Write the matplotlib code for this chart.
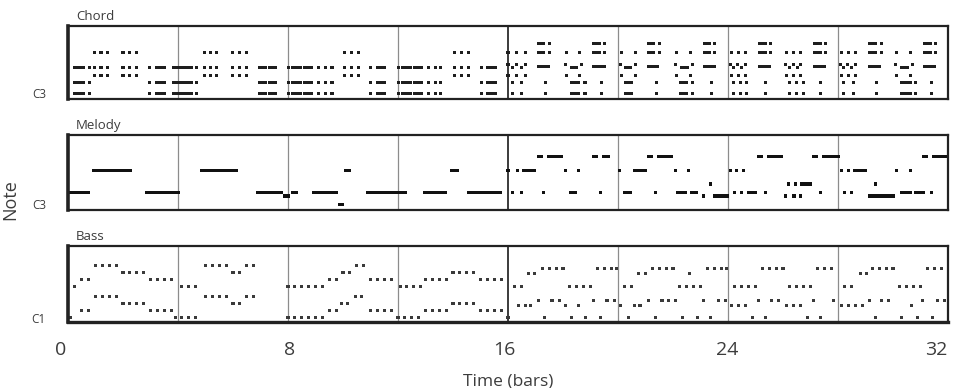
import matplotlib
matplotlib.use("Agg")
import matplotlib.pyplot as plt
import matplotlib.transforms as mtransforms
from matplotlib.patches import Rectangle
from matplotlib.collections import PatchCollection

plt.rcParams['font.family'] = ['Open Sans', 'DejaVu Sans']

# ---------------- data ----------------
# x axis: time in bars (0..32); notes are read in beats (4 beats per bar),
# given relative to the start of each 4-bar segment.
BEATS_PER_BAR = 4
SEG_OFFSETS = [0, 16, 32, 48, 64, 80, 96, 112]   # segment starts, in beats
X_TICKS = [0, 8, 16, 24, 32]
PANELS = ["Chord", "Melody", "Bass"]
REF_PITCH = [48, 48, 24]
REF_LABEL = ["C3", "C3", "C1"]
DIVIDERS = [4, 8, 12, 16, 20, 24, 28]
# each entry: pitch -> list of notes; a number = short note (its centre beat),
# a pair = held note (start beat, end beat)

CHORD = [
    {75: [3.85, 4.8, 5.75, 8.0, 8.95, 9.9],
     65: [(0.75, 2.5), 3.1, 3.85, 4.8, 5.75, 8.0, 8.95, 9.9, 11.85, (12.6, 14.3), (15.1, 18.2)],
     60: [3.85, 4.8, 5.75, 8.0, 8.95, 9.9],
     55: [(0.75, 2.5), 3.1, 11.85, (12.6, 14.3), (15.1, 18.2)],
     48: [(0.75, 2.5), 3.1, 11.85, (12.6, 14.3), (15.1, 18.2)]},
    {75: [3.8, 4.7, 5.6, 7.9, 8.9, 9.9],
     65: [2.7, 3.8, 4.7, 5.6, 7.9, 8.9, 9.9, (11.7, 12.9), (13.1, 14.4)],
     60: [3.8, 4.7, 5.6, 7.9, 8.9, 9.9],
     55: [2.7, (11.7, 12.9), (13.1, 14.4)],
     48: [2.7, (11.7, 12.9), (13.1, 14.4)]},
    {75: [8.25, 9.25, 10.25],
     65: [0.1, (0.5, 2.0), (2.2, 3.7), 4.4, 5.4, 6.4, 8.25, 9.25, 10.25, 12.0, (12.8, 14.2)],
     60: [8.25, 9.25, 10.25],
     55: [0.1, (0.5, 2.0), (2.2, 3.7), 4.4, 5.4, 6.4, 12.0, (12.8, 14.2)],
     48: [0.1, (0.5, 2.0), (2.2, 3.7), 4.4, 5.4, 6.4, 12.0, (12.8, 14.2)]},
    {75: [8.25, 9.25, 10.25],
     65: [0.1, (0.5, 2.0), (2.2, 3.7), 4.4, 5.4, 6.2, 8.25, 9.25, 10.25, 12.2, (12.8, 14.4)],
     60: [8.25, 9.25, 10.25],
     55: [0.1, (0.5, 2.0), (2.2, 3.7), 4.4, 5.4, 6.2, 12.2, (12.8, 14.4)],
     48: [0.1, (0.5, 2.0), (2.2, 3.7), 4.4, 5.4, 6.2, 12.2, (12.8, 14.4)]},
    {81: [(4.2, 5.4), 6.1, (12.2, 13.5), 14.1],
     75: [0.0, 1.2, 2.5, (4.2, 5.4), 6.1, 8.5, 10.4, (12.2, 13.5), 14.1],
     67: [0.0, 1.2, 2.5, 8.4, 10.7],
     65: [0.6, 1.9, (9.0, 10.2)],
     66: [(4.2, 6.1), (12.2, 14.2)],
     60: [0.0, 1.2, 2.5, 8.5, 10.4],
     55: [0.7, 2.0, 5.4, (9.0, 10.5), 11.2, 13.6],
     48: [0.7, 2.0, 5.4, (9.0, 10.5), 11.2, 13.6]},
    {81: [(4.2, 5.4), 6.0, (12.3, 13.5), 14.0],
     75: [0.5, 2.5, (4.2, 5.4), 6.0, 8.5, 10.5, (12.3, 13.5), 14.0],
     67: [0.3, 2.5, 8.4, 10.8],
     65: [(0.8, 2.0), (9.0, 10.3)],
     66: [(4.2, 6.0), (12.3, 14.3)],
     60: [0.5, 2.5, 8.5, 10.5],
     55: [(0.8, 2.2), 5.6, (8.8, 10.2), 10.8, 13.6],
     48: [(0.8, 2.2), 5.6, (8.8, 10.2), 10.8, 13.6]},
    {81: [(4.4, 5.6), 6.2, (12.4, 13.6), 14.2],
     75: [0.5, 1.5, 2.5, (4.4, 5.6), 6.2, 8.5, 9.5, 10.5, (12.4, 13.6), 14.2],
     67: [0.3, 1.4, 2.5, 8.4, 9.5, 10.6],
     65: [0.85, 1.95, 8.95, 10.05],
     66: [(4.4, 6.2), (12.4, 14.3)],
     60: [0.5, 1.5, 2.5, 8.5, 9.5, 10.5],
     55: [0.8, 1.8, 2.7, 5.4, 9.0, 10.0, 11.0, 13.4],
     48: [0.8, 1.8, 2.7, 5.4, 9.0, 10.0, 11.0, 13.4]},
    {81: [(4.4, 5.6), 6.3, (12.4, 13.6), 14.2],
     75: [0.5, 1.5, 2.5, (4.4, 5.6), 6.3, 8.5, 10.5, (12.4, 13.6), 14.2],
     67: [0.3, 1.4, 2.5, 8.4, 10.8],
     65: [0.85, 1.95, (9.0, 10.3)],
     66: [(4.4, 6.2), (12.4, 14.3)],
     60: [0.5, 1.5, 2.5, 8.5, 10.5],
     55: [0.8, 2.2, 5.6, (9.0, 10.7), 11.3, 13.6],
     48: [0.8, 2.2, 5.6, (9.0, 10.7), 11.3, 13.6]},
]

MELODY = [
    {55: [(0.0, 3.2), (11.25, 16.3)], 68: [(3.5, 9.25)]},
    {68: [(3.25, 8.75)], 55: [(11.4, 15.2)], 53: [(15.3, 16.3)]},
    {55: [(0.5, 1.4), (3.5, 7.3), (11.3, 16.0)], 48: [(7.3, 8.2)], 68: [(8.2, 9.1)]},
    {55: [(0.0, 1.3), (3.6, 7.1), (10.0, 15.1)], 68: [(7.6, 8.8)]},
    {68: [(-0.3, 0.35), 1.35, (2.1, 4.1), 8.4, 10.3],
     76: [(4.2, 5.1), (5.6, 8.0), (12.2, 13.1), (13.6, 14.8)],
     55: [0.7, 1.9, 5.2, (8.8, 10.0), 13.4]},
    {76: [(4.2, 5.1), (5.6, 8.0)],
     68: [0.2, (2.2, 4.2), 8.4, 10.3],
     60: [13.4],
     55: [(0.7, 2.0), 5.4, (8.5, 10.0), (10.4, 11.7)],
     53: [12.5, (13.8, 16.2)]},
    {76: [(4.2, 5.1), (5.6, 8.0), (12.2, 13.1), (13.6, 16.3)],
     68: [0.3, 1.3, 2.3],
     60: [8.8, 9.8, (10.5, 12.2)],
     55: [1.0, 1.9, (2.7, 4.2), 5.4, 13.4],
     53: [8.4, 9.6, 10.6]},
    {76: [(12.2, 13.1), (13.6, 16.0)],
     68: [0.5, 1.5, (2.2, 4.2), 8.5, 10.6],
     60: [5.5],
     55: [1.0, 2.0, (9.0, 10.8), (11.1, 12.6), 13.6],
     53: [(4.4, 8.3)]},
]

BASS = [
    {54: [4, 5, 6, 7], 50: [8, 9, 10, 11], 46: [2, 3, 12, 13, 14, 15], 42: [1],
     36: [4, 5, 6, 7], 32: [8, 9, 10, 11], 28: [2, 3, 12, 13, 14, 15], 24: [0.4, 15.6]},
    {54: [4, 5, 6, 7, 10, 11], 50: [8, 9], 42: [0.5, 1.5, 2.5],
     36: [4, 5, 6, 7, 10, 11], 32: [8, 9], 24: [0.5, 1.5, 2.5]},
    {54: [10, 11], 50: [8, 9], 46: [6, 7, 12, 13, 14, 15], 42: [0, 1, 2, 3, 4, 5],
     36: [9.8, 10.7], 32: [7.8, 8.7], 28: [6, 7, 12, 13, 14, 15], 24: [0, 1, 2, 3, 4, 5]},
    {50: [8, 9, 10, 11], 46: [4, 5, 6, 7, 12, 13, 14, 15], 42: [0.3, 1.3, 2.3, 3.3],
     32: [8, 9, 10, 11], 28: [4, 5, 6, 7, 12, 13, 14, 15], 24: [0, 1, 2, 3]},
    {52: [5, 6, 7, 8, 13, 14, 15, 15.8], 49: [3, 3.8], 42: [1, 2, 9, 10, 11, 12],
     34: [4.4, 6.4, 7.5, 12.4, 14.4, 15.5], 31: [1.5, 2.5, 3.3, 8.4, 10.3],
     24: [0, 5.3, 9.3, 11.3, 13.4]},
    {52: [5, 6, 7, 8, 13, 14, 15, 15.8], 49: [3, 4, 10.4], 42: [1, 2, 9, 10, 11, 12],
     34: [4.4, 6.4, 7.4, 8.4, 12.4, 14.6, 15.6], 31: [0.4, 2.4, 3.2],
     24: [1.5, 5.4, 9.4, 11.5, 13.5]},
    {52: [5, 6, 7, 8, 13, 14, 15], 42: [1, 2, 3, 4, 9, 10, 11, 12],
     34: [4.5, 6.3, 7.3, 12.4, 15.3], 31: [0.5, 1.5, 2.5, 8.5, 9.5, 10.5],
     24: [3.5, 5.4, 11.5, 13.5]},
    {52: [5, 6, 7, 8, 13, 14, 15], 49: [3.3, 4.2], 42: [1, 2, 9, 10, 11, 12],
     34: [4.6, 6.3, 7.3, 12.3, 14.5, 15.5], 31: [0.5, 1.5, 2.5, 3.5, 10.7],
     24: [5.4, 9.3, 11.6, 13.8]},
]

# ---------------- layout / style ----------------
W_PX, H_PX = 957, 388
AX_L, AX_R = 68, 948
PANEL_BOX = [(26, 99), (135, 210), (246, 322)]          # top, bottom (px)
PX_PER_SEMITONE = [1.5, 1.7, 1.75]
REF_Y_PX = [93.3, 204.3, 317.7]
NOTE_H_PX = [3.0, 3.4, 3.0]
NOTE_COLORS = ["#1e1e1e", "#111111", "#3a3a3a"]
DOT_BEATS = 0.45
TEXT_C = "#3c3c3c"
XLABEL_SHIFT_PX = [-7, 2, -4, -1, -12]   # small nudges of the tick texts

fig = plt.figure(figsize=(W_PX / 100, H_PX / 100), dpi=100)


def draw_notes(ax, segs, h, color):
    rects = []
    for off, seg in zip(SEG_OFFSETS, segs):
        for pitch, items in seg.items():
            for it in items:
                if isinstance(it, tuple):
                    s, e = it
                else:
                    s, e = it - DOT_BEATS / 2, it + DOT_BEATS / 2
                rects.append(Rectangle(((off + s) / BEATS_PER_BAR, pitch - h / 2),
                                       (e - s) / BEATS_PER_BAR, h))
    ax.add_collection(PatchCollection(rects, facecolor=color, edgecolor="none"))


axes = []
for i, (name, data) in enumerate(zip(PANELS, [CHORD, MELODY, BASS])):
    top, bot = PANEL_BOX[i]
    ax = fig.add_axes([AX_L / W_PX, 1 - bot / H_PX, (AX_R - AX_L) / W_PX, (bot - top) / H_PX])
    s = PX_PER_SEMITONE[i]
    ymin = REF_PITCH[i] - (bot - REF_Y_PX[i]) / s
    ymax = REF_PITCH[i] + (REF_Y_PX[i] - top) / s
    ax.set_xlim(0, 32)
    ax.set_ylim(ymin, ymax)
    for d in DIVIDERS:
        if d == 16:
            ax.axvline(d, color="#1a1a1a", lw=1.2, zorder=1)
        else:
            ax.axvline(d, color="#8c8c8c", lw=0.9, zorder=1)
    draw_notes(ax, data, NOTE_H_PX[i] / s, NOTE_COLORS[i])
    ax.set_yticks([REF_PITCH[i]])
    ax.set_yticklabels([REF_LABEL[i]], fontsize=8.5, color=TEXT_C)
    ax.tick_params(axis="y", length=0, pad=16)
    for side, sp in ax.spines.items():
        sp.set_color("#222222")
        sp.set_linewidth(1.6)
    ax.spines["left"].set_linewidth(2.6)
    if i < 2:
        ax.set_xticks([])
    else:
        ax.set_xticks(X_TICKS)
        ax.set_xticklabels([str(t) for t in X_TICKS], fontsize=14, color=TEXT_C)
        ax.tick_params(axis="x", length=0, pad=14)
        for lab, dx in zip(ax.get_xticklabels(), XLABEL_SHIFT_PX):
            lab.set_transform(lab.get_transform() +
                              mtransforms.ScaledTranslation(dx / 100, 0, fig.dpi_scale_trans))
        ax.set_xlabel("Time (bars)", fontsize=12.5, color=TEXT_C, labelpad=10)
        ax.spines["bottom"].set_linewidth(2.4)
    fig.text(76 / W_PX, 1 - (top - 6) / H_PX, name, fontsize=9.5, color=TEXT_C,
             ha="left", va="baseline")
    axes.append(ax)

fig.text(10 / W_PX, 1 - 200 / H_PX, "Note", rotation=90, fontsize=13, color=TEXT_C,
         ha="center", va="center")

fig.savefig("out.png", dpi=100)
